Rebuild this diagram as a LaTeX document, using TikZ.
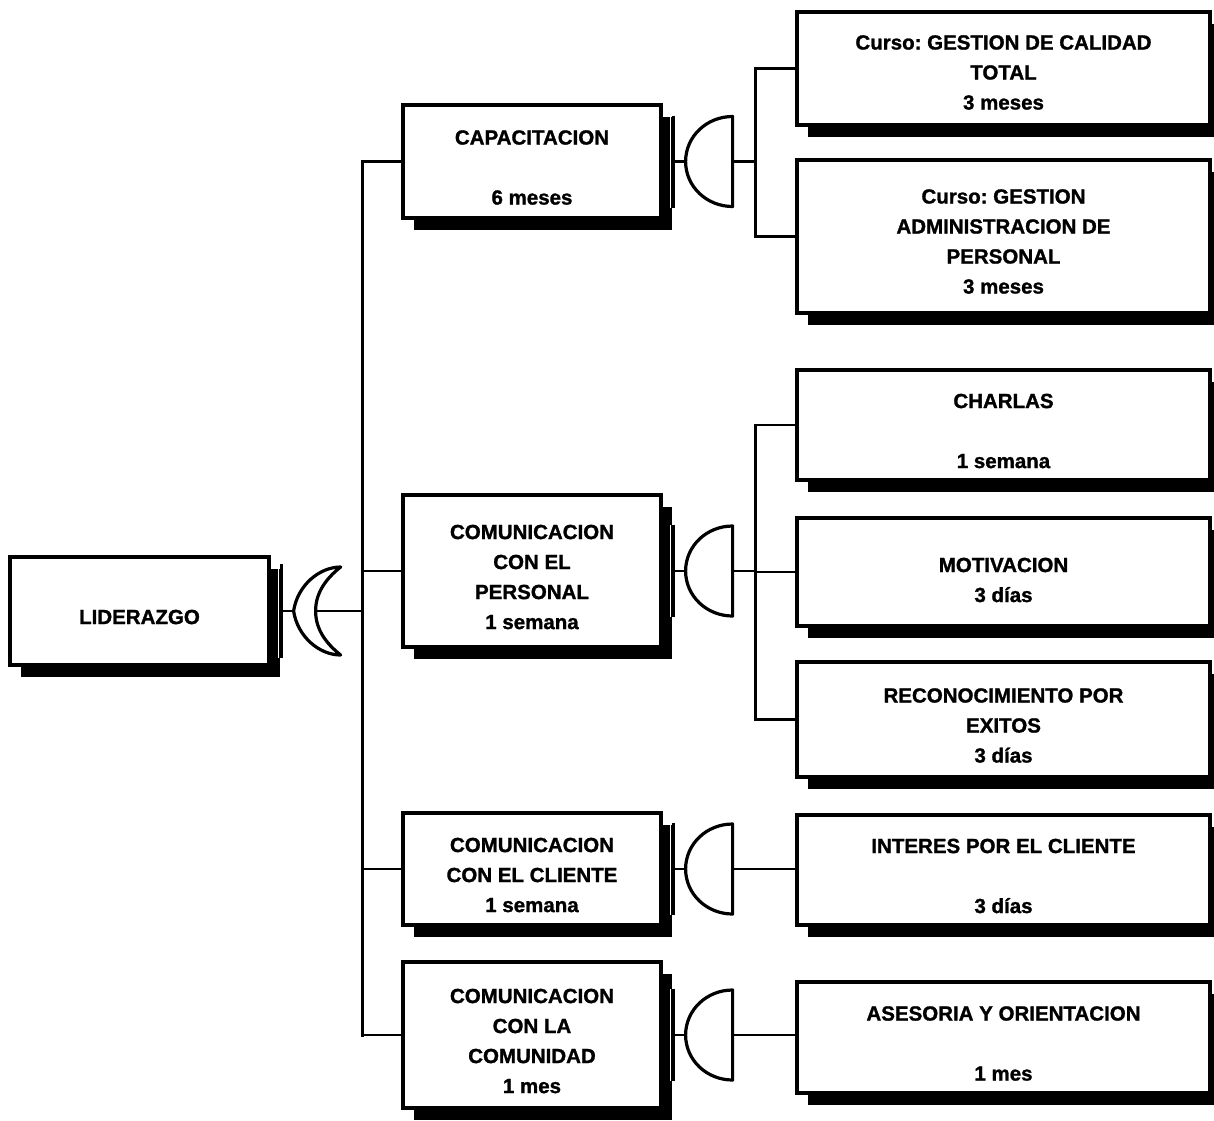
\documentclass[tikz,border=0pt]{standalone}
\usepackage{fontspec}
\setmainfont{Liberation Sans}[BoldFeatures={FakeBold=1.3}]
\usetikzlibrary{shadows}
\frenchspacing
\begin{document}
\begin{tikzpicture}[x=1pt,y=-1pt,
  box/.style={draw=black, line width=3.2pt, fill=white, rectangle, inner sep=0pt,
    drop shadow={shadow xshift=11pt, shadow yshift=-12pt, fill=black, opacity=1}},
  lvlA/.style={box, minimum width=259pt},
  lvlB/.style={box, minimum width=258pt},
  lvlC/.style={box, minimum width=413pt},
  txt/.style={align=center, font=\bfseries\fontsize{20.5}{30}\selectfont, inner sep=0pt},
  wire/.style={line width=2.8pt},
  bus/.style={line width=3pt, line cap=rect},
  gateline/.style={line width=3.2pt, line join=round, fill=white},
  % AND gate: dome pointing left to the parent event, flat input side on the right
  andgate/.pic={
    \draw[white, line width=1pt] (-15,-46) -- (-15,46);
    \draw[line width=2.8pt] (-12,-46) -- (-12,46);
    \draw[wire] (-12,0) -- (0,0);
    \draw[gateline] (0,0) .. controls (0,-25) and (21,-45) .. (47,-45)
      -- (47,45) .. controls (21,45) and (0,25) .. (0,0) -- cycle;
    \coordinate (-in) at (0,0);
    \coordinate (-out) at (47,0);
  },
  % OR gate: crescent pointing left to the parent event
  orgate/.pic={
    \draw[white, line width=1pt] (-15,-47) -- (-15,47);
    \draw[line width=2.8pt] (-12,-47) -- (-12,47);
    \draw[wire] (-12,0) -- (0,0);
    \draw[gateline, line cap=round] (0,0) .. controls (4,-26) and (26,-44) .. (47,-44)
      .. controls (32,-32) and (22,-18) .. (22,0)
      .. controls (22,18) and (32,32) .. (47,44)
      .. controls (26,44) and (4,26) .. (0,0) -- cycle;
    \coordinate (-in) at (0,0);
    \coordinate (-out) at (22,0);
  }
]
\useasboundingbox (0,0) rectangle (1214,1120);

% bus positions
\coordinate (lbus) at (362,0);
\coordinate (rbus) at (755,0);

% top event
\node[lvlA, minimum height=108pt] (lid) at (139.5,611) {};
\node[txt] (lid-t) at ([yshift=-6pt]lid.center) {LIDERAZGO};

% second level
\node[lvlB, minimum height=113pt] (cap) at (532,161.5) {};
\node[txt] (cap-t) at ([yshift=-6pt]cap.center) {CAPACITACION\\[30pt]6 meses};
\node[lvlB, minimum height=152pt] (per) at (532,571) {};
\node[txt] (per-t) at ([yshift=-6pt]per.center) {COMUNICACION\\CON EL\\PERSONAL\\1 semana};
\node[lvlB, minimum height=112pt] (cli) at (532,869) {};
\node[txt] (cli-t) at ([yshift=-6pt]cli.center) {COMUNICACION\\CON EL CLIENTE\\1 semana};
\node[lvlB, minimum height=146pt] (com) at (532,1035) {};
\node[txt] (com-t) at ([yshift=-6pt]com.center) {COMUNICACION\\CON LA\\COMUNIDAD\\1 mes};

% third level
\node[lvlC, minimum height=113pt] (c1) at (1003.5,68.5) {};
\node[txt] (c1-t) at ([yshift=-4pt]c1.center) {Curso: GESTION DE CALIDAD\\TOTAL\\3 meses};
\node[lvlC, minimum height=153pt] (c2) at (1003.5,236.5) {};
\node[txt] (c2-t) at ([yshift=-5pt]c2.center) {Curso: GESTION\\ADMINISTRACION DE\\PERSONAL\\3 meses};
\node[lvlC, minimum height=110pt] (cha) at (1003.5,425) {};
\node[txt] (cha-t) at ([yshift=-6pt]cha.center) {CHARLAS\\[30pt]1 semana};
\node[lvlC, minimum height=108pt] (mot) at (1003.5,572) {};
\node[txt] (mot-t) at ([yshift=-8pt]mot.center) {MOTIVACION\\3 días};
\node[lvlC, minimum height=115pt] (rec) at (1003.5,719.5) {};
\node[txt] (rec-t) at ([yshift=-6pt]rec.center) {RECONOCIMIENTO POR\\EXITOS\\3 días};
\node[lvlC, minimum height=110pt] (int) at (1003.5,870) {};
\node[txt] (int-t) at ([yshift=-6pt]int.center) {INTERES POR EL CLIENTE\\[30pt]3 días};
\node[lvlC, minimum height=111pt] (ase) at (1003.5,1037.5) {};
\node[txt] (ase-t) at ([yshift=-6pt]ase.center) {ASESORIA Y ORIENTACION\\[30pt]1 mes};

% gates
\pic (lidg) at ([xshift=23pt]lid.east) {orgate};
\pic (capg) at ([xshift=23pt]cap.east) {andgate};
\pic (perg) at ([xshift=23pt]per.east) {andgate};
\pic (clig) at ([xshift=23pt]cli.east) {andgate};
\pic (comg) at ([xshift=23pt]com.east) {andgate};

% left bus and its branches
\draw[wire] (lidg-out) -- (lidg-out -| lbus);
\draw[bus] (cap.west -| lbus) -- (com.west -| lbus);
\foreach \n in {cap,per,cli,com}
  \draw[wire] (\n.west -| lbus) -- (\n.west);

% right buses and branches
\draw[wire] (capg-out) -- (capg-out -| rbus);
\draw[bus] (c1.west -| rbus) -- (c2.west -| rbus);
\foreach \n in {c1,c2}
  \draw[wire] (\n.west -| rbus) -- (\n.west);

\draw[wire] (perg-out) -- (perg-out -| rbus);
\draw[bus] (cha.west -| rbus) -- (rec.west -| rbus);
\foreach \n in {cha,mot,rec}
  \draw[wire] (\n.west -| rbus) -- (\n.west);

\draw[wire] (clig-out) -- (clig-out -| int.west);
\draw[wire] (comg-out) -- (comg-out -| ase.west);
\end{tikzpicture}
\end{document}
